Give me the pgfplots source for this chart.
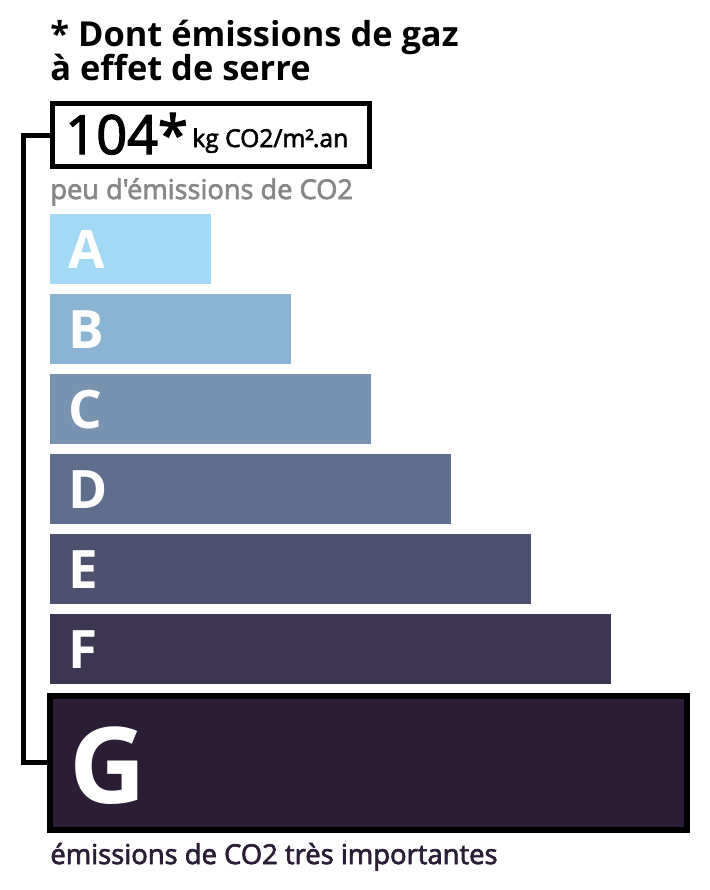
\documentclass[border=0pt]{standalone}
\usepackage{fontspec}
\setmainfont{Open Sans}
\newfontfamily\semib{Open Sans}[FakeBold=2.5]
\usepackage{pgfplots}
\pgfplotsset{compat=1.18}
\definecolor{cA}{HTML}{A3D9F5}
\definecolor{cB}{HTML}{8BB3D2}
\definecolor{cC}{HTML}{7893B0}
\definecolor{cD}{HTML}{5F6E8D}
\definecolor{cE}{HTML}{4D506F}
\definecolor{cF}{HTML}{3C3653}
\definecolor{cG}{HTML}{2A1D35}
\definecolor{cGrey}{HTML}{878787}
\begin{document}
\begin{tikzpicture}
\begin{axis}[
  x=0.5pt, y=0.5pt, y dir=reverse,
  xmin=-50, xmax=660, ymin=0, ymax=890,
  hide axis, clip=false,
  xbar, bar width=70, bar shift=0pt,
]
\coordinate (bl) at (axis cs:-50,890);
\coordinate (tr) at (axis cs:660,0);
\addplot[fill=cA, draw=none] coordinates {(161,249)};
\addplot[fill=cB, draw=none] coordinates {(241,329)};
\addplot[fill=cC, draw=none] coordinates {(321,409)};
\addplot[fill=cD, draw=none] coordinates {(401,489)};
\addplot[fill=cE, draw=none] coordinates {(481,569)};
\addplot[fill=cF, draw=none] coordinates {(561,649)};
\addplot[fill=cG, draw=black, line width=3pt, bar width=134] coordinates {(637,763)};
% connector
\addplot[sharp plot, black, line width=2.5pt, line cap=rect] coordinates {(0,135) (-27,135) (-27,762) (0,762)};
% value box
\addplot[sharp plot, black, line width=2.8pt, line cap=rect, line join=miter] coordinates {(2.5,103.5) (319.5,103.5) (319.5,166.5) (2.5,166.5) (2.5,103.5)};
% texts
\node[anchor=base west, inner sep=0, font=\fontsize{17.2}{20}\selectfont\bfseries] at (axis cs:0,46) {* Dont émissions de gaz};
\node[anchor=base west, inner sep=0, font=\fontsize{17.2}{20}\selectfont\bfseries] at (axis cs:0,80) {à effet de serre};
\node[anchor=base west, inner sep=0, font=\fontsize{27}{30}\selectfont\semib] at (axis cs:15,154) {104*};
\node[anchor=base west, inner sep=0, font=\fontsize{12.3}{14}\selectfont\semib] at (axis cs:142,147) {kg CO2/m²\kern-0.5pt.an};
\node[anchor=base west, inner sep=0, text=cGrey, font=\fontsize{13.6}{15}\selectfont\semib] at (axis cs:0,199) {peu d\char39émissions de CO2};
\node[anchor=base west, inner sep=0, text=cG, font=\fontsize{13.7}{15}\selectfont\semib] at (axis cs:0,864) {émissions de CO2 très importantes};
% letters
\node[anchor=base west, inner sep=0, text=white, font=\fontsize{26.5}{30}\selectfont\bfseries] at (axis cs:18,268) {A};
\node[anchor=base west, inner sep=0, text=white, font=\fontsize{26.5}{30}\selectfont\bfseries] at (axis cs:18,348) {B};
\node[anchor=base west, inner sep=0, text=white, font=\fontsize{26.5}{30}\selectfont\bfseries] at (axis cs:18,428) {C};
\node[anchor=base west, inner sep=0, text=white, font=\fontsize{26.5}{30}\selectfont\bfseries] at (axis cs:18,508) {D};
\node[anchor=base west, inner sep=0, text=white, font=\fontsize{26.5}{30}\selectfont\bfseries] at (axis cs:18,588) {E};
\node[anchor=base west, inner sep=0, text=white, font=\fontsize{26.5}{30}\selectfont\bfseries] at (axis cs:18,668) {F};
\node[anchor=base west, inner sep=0, text=white, font=\fontsize{53}{60}\selectfont\bfseries] at (axis cs:19,803) {G};
\end{axis}
\pgfresetboundingbox
\useasboundingbox (bl) rectangle (tr);
\end{tikzpicture}
\end{document}
